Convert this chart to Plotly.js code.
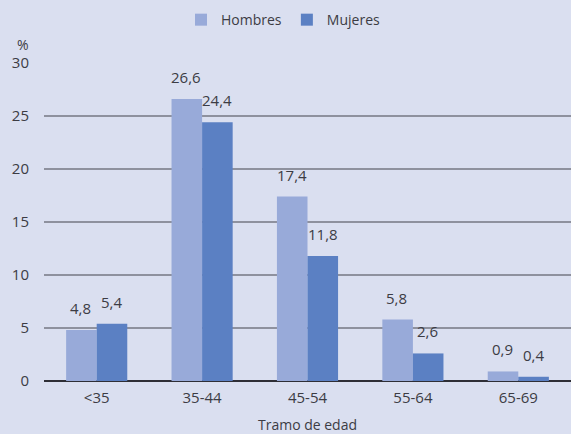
<!DOCTYPE html>
<html>
<head>
<meta charset="utf-8">
<script src="https://cdn.plot.ly/plotly-3.0.1.min.js"></script>
<style>html,body{margin:0;padding:0;background:#dadff0;}#chart{width:571px;height:434px;}</style>
</head>
<body>
<div id="chart"></div>
<script>
var categories = ['<35', '35-44', '45-54', '55-64', '65-69'];
var hombres = [4.8, 26.6, 17.4, 5.8, 0.9];
var mujeres = [5.4, 24.4, 11.8, 2.6, 0.4];
var yTicks = [0, 5, 10, 15, 20, 25, 30];

var fontFam = '"Open Sans", "DejaVu Sans", sans-serif';
var txtColor = '#3c3c44';
function fmt(v){ return v.toFixed(1).replace('.', ','); }

var traces = [
  {type:'bar', name:'Hombres', x:categories, y:hombres, marker:{color:'#98aad9'}, hoverinfo:'none'},
  {type:'bar', name:'Mujeres', x:categories, y:mujeres, marker:{color:'#5b80c3'}, hoverinfo:'none'}
];

var annotations = [];
categories.forEach(function(c, i){
  annotations.push({x:c, y:hombres[i], xref:'x', yref:'y', text:fmt(hombres[i]), showarrow:false,
    xshift:-16, yanchor:'bottom', yshift:10, font:{size:15, color:txtColor, family:fontFam}});
  annotations.push({x:c, y:mujeres[i], xref:'x', yref:'y', text:fmt(mujeres[i]), showarrow:false,
    xshift:15, yanchor:'bottom', yshift:10, font:{size:15, color:txtColor, family:fontFam}});
});
annotations.push({xref:'paper', yref:'paper', x:-0.04, y:1.058, xanchor:'center', yanchor:'middle',
  text:'%', showarrow:false, font:{size:14, color:txtColor, family:fontFam}});

var layout = {
  width:571, height:434,
  paper_bgcolor:'#dadff0', plot_bgcolor:'#dadff0',
  margin:{l:44, r:0, t:63, b:53, autoexpand:false},
  separators:',.',
  barmode:'group', bargap:0.42, bargroupgap:0,
  font:{family:fontFam, color:txtColor, size:15},
  showlegend:true,
  legend:{orientation:'h', x:0.26, xanchor:'left', y:1.135, yanchor:'middle',
    font:{size:14, color:txtColor, family:fontFam}, itemwidth:30, bgcolor:'rgba(0,0,0,0)'},
  xaxis:{type:'category', showgrid:false, ticks:'', showline:false, zeroline:false,
    tickfont:{size:15, color:txtColor}, ticklabelstandoff:6,
    title:{text:'Tramo de edad', font:{size:14, color:txtColor}, standoff:14}},
  yaxis:{range:[0,30], tickvals:yTicks, showgrid:true, gridcolor:'#8e919e', gridwidth:1.3,
    zeroline:true, zerolinecolor:'#2e2e36', zerolinewidth:1.5, ticks:'', showline:false,
    tickfont:{size:15, color:txtColor}, ticklabelstandoff:14},
  annotations:annotations
};

Plotly.newPlot('chart', traces, layout, {displayModeBar:false, staticPlot:true});
</script>
</body>
</html>
